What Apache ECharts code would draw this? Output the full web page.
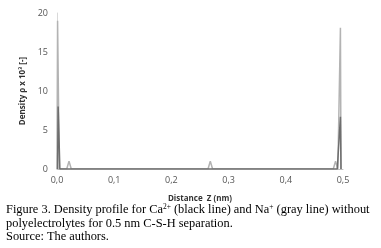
<!DOCTYPE html>
<html><head><meta charset="utf-8">
<script src="https://cdn.jsdelivr.net/npm/echarts@6/dist/echarts.min.js"></script>
<style>html,body{margin:0;padding:0;background:#fff}#c{width:381px;height:248px}</style>
</head><body><div id="c"></div>
<script>
// Na+ (gray line): [distance nm, density]
const naX = [0.000, 0.001, 0.004, 0.017, 0.021, 0.025, 0.264, 0.268, 0.272, 0.483, 0.487, 0.491, 0.4955, 0.4965];
const naY = [0,     19.0,  0,     0,     1.0,   0,     0,     1.0,   0,     0,     1.0,   0,     18.1,   0];
// Ca2+ (black line)
const caX = [0.001, 0.002, 0.005, 0.490, 0.4955, 0.4965];
const caY = [0,     8.0,   0,     0,     6.7,    0];
const xTicks = ['0,0','0,1','0,2','0,3','0,4','0,5'];
const yTicks = ['0','5','10','15','20'];

const pair = (xs, ys) => xs.map((x, i) => [x, ys[i]]);
const chart = echarts.init(document.getElementById('c'));
chart.setOption({
  animation: false,
  grid: {left: 57, right: 38, top: 13, bottom: 79},
  xAxis: {
    type: 'value', min: 0, max: 0.5, interval: 0.1,
    name: 'Distance  Z (nm)', nameLocation: 'middle', nameGap: 26,
    nameTextStyle: {fontFamily: 'Open Sans', fontSize: 8, fontWeight: 'bold', color: '#333'},
    axisLine: {lineStyle: {color: '#bfbfbf', width: 1}},
    axisTick: {show: false}, splitLine: {show: false},
    axisLabel: {fontFamily: 'Open Sans', fontSize: 9, color: '#555', margin: 7,
      formatter: v => xTicks[Math.round(v * 10)]}
  },
  yAxis: {
    type: 'value', min: 0, max: 20, interval: 5,
    name: 'Density ρ x 10³ [-]', nameLocation: 'middle', nameGap: 19,
    nameTextStyle: {fontFamily: 'Open Sans', fontSize: 8, fontWeight: 'bold', color: '#333'},
    axisLine: {show: true, lineStyle: {color: '#d9d9d9', width: 1}},
    axisTick: {show: false}, splitLine: {show: false},
    axisLabel: {fontFamily: 'Open Sans', fontSize: 9, color: '#555', margin: 9,
      formatter: v => yTicks[v / 5]}
  },
  series: [
    {type: 'line', data: pair(naX, naY), symbol: 'none', lineStyle: {color: '#b3b3b3', width: 1.5}},
    {type: 'line', data: pair(caX, caY), symbol: 'none', lineStyle: {color: '#6e6e6e', width: 1.5}}
  ],
  graphic: [
    {type: 'text', left: 6, top: 203, style: {
      text: 'Figure 3. Density profile for Ca{s|2+} (black line) and Na{s|+} (gray line) without\npolyelectrolytes for 0.5 nm C-S-H separation.\nSource: The authors.',
      fontFamily: 'Liberation Serif', fontSize: 12.4, lineHeight: 13.5, fill: '#000',
      rich: {s: {fontFamily: 'Liberation Serif', fontSize: 7.5, verticalAlign: 'top', padding: [0,0,5,0], lineHeight: 13.5}}
    }}
  ]
});
</script></body></html>
